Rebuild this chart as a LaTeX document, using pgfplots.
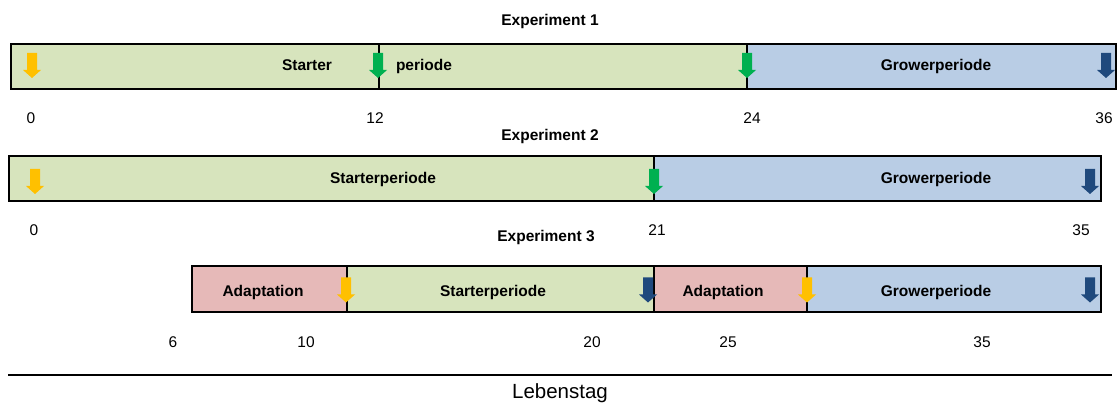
\documentclass[border=0pt]{standalone}
\usepackage{pgfplots}
\pgfplotsset{compat=1.18}
\usepackage{fontspec}
\setmainfont{Liberation Sans}
\definecolor{gfill}{HTML}{D7E4BD}
\definecolor{bfill}{HTML}{B9CDE5}
\definecolor{pfill}{HTML}{E6B9B8}
\definecolor{ayel}{HTML}{FFC000}
\definecolor{agrn}{HTML}{00B050}
\definecolor{ablu}{HTML}{1F497D}
\pgfdeclareplotmark{darrow}{%
  \pgfpathmoveto{\pgfqpoint{-5pt}{12.5pt}}%
  \pgfpathlineto{\pgfqpoint{5pt}{12.5pt}}%
  \pgfpathlineto{\pgfqpoint{5pt}{-4.5pt}}%
  \pgfpathlineto{\pgfqpoint{9pt}{-4.5pt}}%
  \pgfpathlineto{\pgfqpoint{0pt}{-12.5pt}}%
  \pgfpathlineto{\pgfqpoint{-9pt}{-4.5pt}}%
  \pgfpathlineto{\pgfqpoint{-5pt}{-4.5pt}}%
  \pgfpathclose
  \pgfusepathqfill}
\newcommand\lab{\fontsize{15.5}{18}\selectfont\bfseries}
\newcommand\num{\fontsize{15.5}{18}\selectfont}
\begin{document}
\begin{tikzpicture}
\useasboundingbox (0,0) rectangle (1119pt,403pt);
\begin{axis}[at={(0,0)}, anchor=south west,
  scale only axis, width=1119pt, height=403pt,
  xmin=0, xmax=1119, ymin=0, ymax=403, y dir=reverse,
  axis lines=none, clip=false]
% Experiment 1
\addplot[fill=gfill, draw=black, line width=2.2pt] coordinates {(11,44) (379,44) (379,89) (11,89)} --cycle;
\addplot[fill=gfill, draw=black, line width=2.2pt] coordinates {(379,44) (747,44) (747,89) (379,89)} --cycle;
\addplot[fill=bfill, draw=black, line width=2.2pt] coordinates {(747,44) (1116,44) (1116,89) (747,89)} --cycle;
% Experiment 2
\addplot[fill=gfill, draw=black, line width=2.2pt] coordinates {(9,156) (654,156) (654,201) (9,201)} --cycle;
\addplot[fill=bfill, draw=black, line width=2.2pt] coordinates {(654,156) (1101,156) (1101,201) (654,201)} --cycle;
% Experiment 3
\addplot[fill=pfill, draw=black, line width=2.2pt] coordinates {(192,266) (347,266) (347,312) (192,312)} --cycle;
\addplot[fill=gfill, draw=black, line width=2.2pt] coordinates {(347,266) (654,266) (654,312) (347,312)} --cycle;
\addplot[fill=pfill, draw=black, line width=2.2pt] coordinates {(654,266) (807,266) (807,312) (654,312)} --cycle;
\addplot[fill=bfill, draw=black, line width=2.2pt] coordinates {(807,266) (1101,266) (1101,312) (807,312)} --cycle;
% bottom line
\addplot[black, line width=2pt] coordinates {(8,375) (1112,375)};
% arrows
\addplot[only marks, mark=darrow, mark options={fill=ayel, draw=none}] coordinates {(32,65.5) (35,181.5) (346,290) (807,290)};
\addplot[only marks, mark=darrow, mark options={fill=agrn, draw=none}] coordinates {(378,65.5) (747,65.5) (654,181.5)};
\addplot[only marks, mark=darrow, mark options={fill=ablu, draw=none}] coordinates {(1106,65.5) (1090,181.5) (648,290) (1090,290)};
% titles
\node[anchor=base, font=\lab] at (axis cs:550,26) {Experiment 1};
\node[anchor=base, font=\lab] at (axis cs:550,141) {Experiment 2};
\node[anchor=base, font=\lab] at (axis cs:546,242) {Experiment 3};
% labels in bars
\node[anchor=base, font=\lab] at (axis cs:307,71) {Starter};
\node[anchor=base, font=\lab] at (axis cs:424,71) {periode};
\node[anchor=base, font=\lab] at (axis cs:936,71) {Growerperiode};
\node[anchor=base, font=\lab] at (axis cs:383,184) {Starterperiode};
\node[anchor=base, font=\lab] at (axis cs:936,184) {Growerperiode};
\node[anchor=base, font=\lab] at (axis cs:263,297) {Adaptation};
\node[anchor=base, font=\lab] at (axis cs:493,297) {Starterperiode};
\node[anchor=base, font=\lab] at (axis cs:723,297) {Adaptation};
\node[anchor=base, font=\lab] at (axis cs:936,297) {Growerperiode};
% day numbers
\node[anchor=base, font=\num] at (axis cs:31,124) {0};
\node[anchor=base, font=\num] at (axis cs:375,124) {12};
\node[anchor=base, font=\num] at (axis cs:752,124) {24};
\node[anchor=base, font=\num] at (axis cs:1104,124) {36};
\node[anchor=base, font=\num] at (axis cs:34,236) {0};
\node[anchor=base, font=\num] at (axis cs:657,236) {21};
\node[anchor=base, font=\num] at (axis cs:1081,236) {35};
\node[anchor=base, font=\num] at (axis cs:173,348) {6};
\node[anchor=base, font=\num] at (axis cs:306,348) {10};
\node[anchor=base, font=\num] at (axis cs:592,348) {20};
\node[anchor=base, font=\num] at (axis cs:728,348) {25};
\node[anchor=base, font=\num] at (axis cs:982,348) {35};
\node[anchor=base, font=\fontsize{20.5}{24}\selectfont] at (axis cs:560,398) {Lebenstag};
\end{axis}
\end{tikzpicture}
\end{document}
